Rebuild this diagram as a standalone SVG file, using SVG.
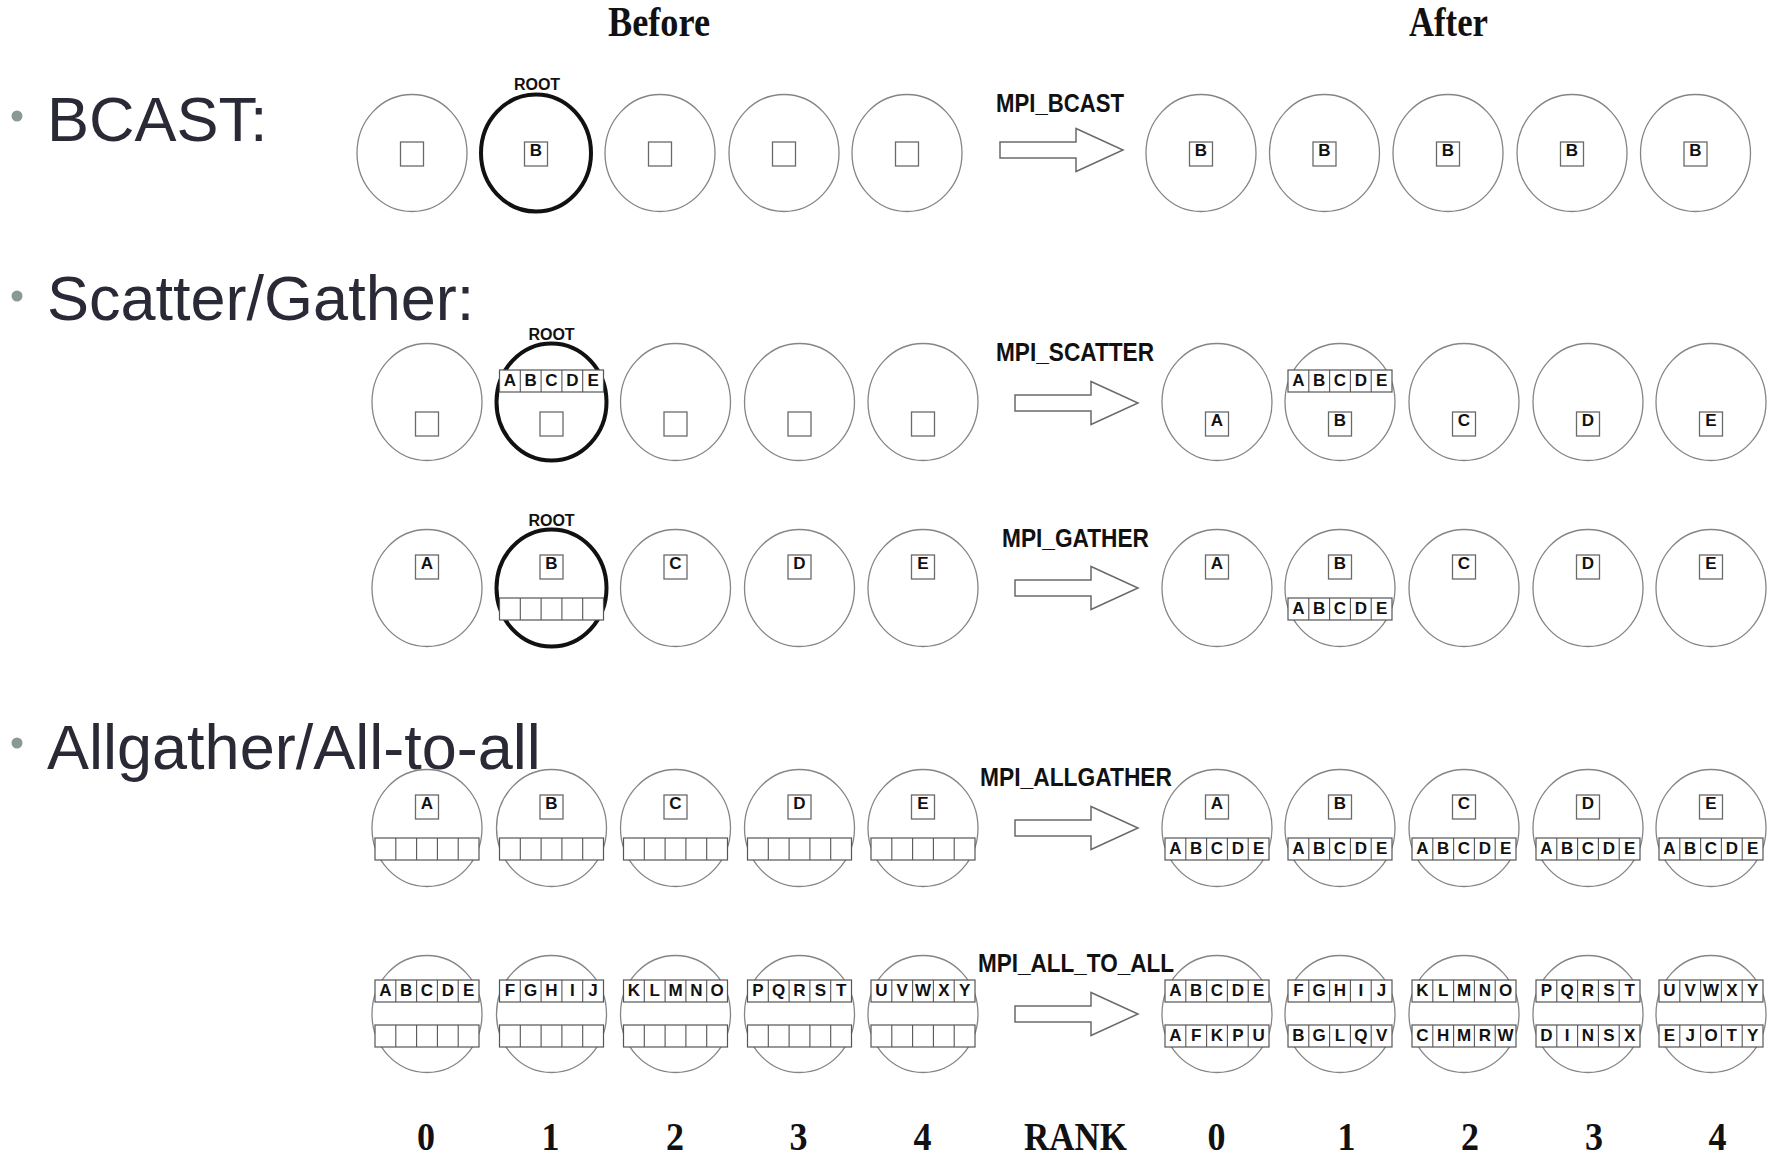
<svg xmlns="http://www.w3.org/2000/svg" width="1773" height="1159" viewBox="0 0 1773 1159">
  <style>
    .proc { fill: none; stroke: #858585; stroke-width: 1.3; }
    .root { fill: none; stroke: #111; stroke-width: 4; }
    .sq { fill: #fff; stroke: #6a6a6a; stroke-width: 1.3; }
    .cell { fill: #fff; stroke: #555; stroke-width: 1.2; }
    .div { fill: none; stroke: #555; stroke-width: 1.1; }
    .arrow { fill: #fff; stroke: #6a6a6a; stroke-width: 1.5; stroke-linejoin: miter; }
    .lt { font-family: "Liberation Sans", Arial, sans-serif; font-weight: bold; font-size: 17px; text-anchor: middle; fill: #111; }
    .rl { font-family: "Liberation Sans", Arial, sans-serif; font-weight: bold; font-size: 16px; text-anchor: middle; fill: #111; }
    .op { font-family: "Liberation Sans", Arial, sans-serif; font-weight: bold; font-size: 25px; fill: #111; }
    .hd { font-family: "Liberation Serif", "Times New Roman", serif; font-weight: bold; font-size: 42px; fill: #111; }
    .rk { font-family: "Liberation Serif", "Times New Roman", serif; font-weight: bold; font-size: 40px; fill: #111; text-anchor: middle; }
    .bl { font-family: "Liberation Sans", Arial, sans-serif; font-size: 63px; fill: #2a2a36; }
    .dot { fill: #8a9a92; }
  </style>
  <defs>
    <ellipse id="pe" cx="0" cy="0" rx="55" ry="58.5"/>
    <path id="blk" d="M0 -8 H76 V-21.5 L123 0 L76 21.5 V8 H0 Z"/>
    <g id="row">
      <rect class="cell" x="0" y="0" width="104" height="22"/>
      <path class="div" d="M20.8 0 v22 M41.6 0 v22 M62.4 0 v22 M83.2 0 v22"/>
    </g>
    <rect id="box" class="sq" x="-11.5" y="0" width="23" height="24"/>
  </defs>

  <rect x="0" y="0" width="1773" height="1159" fill="#fff"/>

  <!-- slide bullets -->
  <g id="bullets">
    <circle class="dot" cx="17" cy="116" r="5.5"/>
    <text class="bl" x="47" y="141">BCAST:</text>
    <circle class="dot" cx="17" cy="296" r="5.5"/>
    <text class="bl" x="47" y="320">Scatter/Gather:</text>
    <circle class="dot" cx="17" cy="743" r="5.5"/>
    <text class="bl" x="47" y="769">Allgather/All-to-all</text>
  </g>

  <!-- column headings -->
  <g id="headings">
    <text class="hd" x="608" y="36" textLength="102" lengthAdjust="spacingAndGlyphs">Before</text>
    <text class="hd" x="1409" y="36" textLength="79" lengthAdjust="spacingAndGlyphs">After</text>
  </g>

  <!-- operation arrows and their labels -->
  <g id="connectors">
    <use href="#blk" class="arrow" transform="translate(1000,150)"/>
    <text class="op" x="996" y="112" textLength="128" lengthAdjust="spacingAndGlyphs">MPI_BCAST</text>
    <use href="#blk" class="arrow" transform="translate(1015,403)"/>
    <text class="op" x="996" y="361" textLength="158" lengthAdjust="spacingAndGlyphs">MPI_SCATTER</text>
    <use href="#blk" class="arrow" transform="translate(1015,588)"/>
    <text class="op" x="1002" y="547" textLength="147" lengthAdjust="spacingAndGlyphs">MPI_GATHER</text>
    <use href="#blk" class="arrow" transform="translate(1015,828)"/>
    <text class="op" x="980" y="786" textLength="192" lengthAdjust="spacingAndGlyphs">MPI_ALLGATHER</text>
    <use href="#blk" class="arrow" transform="translate(1015,1014)"/>
    <text class="op" x="978" y="972" textLength="196" lengthAdjust="spacingAndGlyphs">MPI_ALL_TO_ALL</text>
  </g>

  <!-- ===== BCAST ===== -->
  <g id="bcast-before-0"><use href="#pe" class="proc" x="412" y="153"/><use href="#box" x="412" y="142"/></g>
  <g id="bcast-before-1">
    <text class="rl" x="537" y="90">ROOT</text>
    <use href="#pe" class="root" x="536" y="153"/><use href="#box" x="536" y="142"/><text class="lt" x="536" y="156">B</text>
  </g>
  <g id="bcast-before-2"><use href="#pe" class="proc" x="660" y="153"/><use href="#box" x="660" y="142"/></g>
  <g id="bcast-before-3"><use href="#pe" class="proc" x="784" y="153"/><use href="#box" x="784" y="142"/></g>
  <g id="bcast-before-4"><use href="#pe" class="proc" x="907" y="153"/><use href="#box" x="907" y="142"/></g>

  <g id="bcast-after-0"><use href="#pe" class="proc" x="1201" y="153"/><use href="#box" x="1201" y="142"/><text class="lt" x="1201" y="156">B</text></g>
  <g id="bcast-after-1"><use href="#pe" class="proc" x="1324.5" y="153"/><use href="#box" x="1324.5" y="142"/><text class="lt" x="1324.5" y="156">B</text></g>
  <g id="bcast-after-2"><use href="#pe" class="proc" x="1448" y="153"/><use href="#box" x="1448" y="142"/><text class="lt" x="1448" y="156">B</text></g>
  <g id="bcast-after-3"><use href="#pe" class="proc" x="1572" y="153"/><use href="#box" x="1572" y="142"/><text class="lt" x="1572" y="156">B</text></g>
  <g id="bcast-after-4"><use href="#pe" class="proc" x="1695.5" y="153"/><use href="#box" x="1695.5" y="142"/><text class="lt" x="1695.5" y="156">B</text></g>

  <!-- ===== SCATTER ===== -->
  <g id="scatter-before-0"><use href="#pe" class="proc" x="427" y="402"/><use href="#box" x="427" y="412"/></g>
  <g id="scatter-before-1">
    <text class="rl" x="551.5" y="340">ROOT</text>
    <use href="#pe" class="root" x="551.5" y="402"/>
    <use href="#row" x="499.5" y="370"/>
    <text class="lt" x="509.9" y="386">A</text><text class="lt" x="530.7" y="386">B</text><text class="lt" x="551.5" y="386">C</text><text class="lt" x="572.3" y="386">D</text><text class="lt" x="593.1" y="386">E</text>
    <use href="#box" x="551.5" y="412"/>
  </g>
  <g id="scatter-before-2"><use href="#pe" class="proc" x="675.5" y="402"/><use href="#box" x="675.5" y="412"/></g>
  <g id="scatter-before-3"><use href="#pe" class="proc" x="799.5" y="402"/><use href="#box" x="799.5" y="412"/></g>
  <g id="scatter-before-4"><use href="#pe" class="proc" x="923" y="402"/><use href="#box" x="923" y="412"/></g>

  <g id="scatter-after-0"><use href="#pe" class="proc" x="1217" y="402"/><use href="#box" x="1217" y="412"/><text class="lt" x="1217" y="426">A</text></g>
  <g id="scatter-after-1">
    <use href="#pe" class="proc" x="1340" y="402"/>
    <use href="#row" x="1288" y="370"/>
    <text class="lt" x="1298.4" y="386">A</text><text class="lt" x="1319.2" y="386">B</text><text class="lt" x="1340" y="386">C</text><text class="lt" x="1360.8" y="386">D</text><text class="lt" x="1381.6" y="386">E</text>
    <use href="#box" x="1340" y="412"/><text class="lt" x="1340" y="426">B</text>
  </g>
  <g id="scatter-after-2"><use href="#pe" class="proc" x="1464" y="402"/><use href="#box" x="1464" y="412"/><text class="lt" x="1464" y="426">C</text></g>
  <g id="scatter-after-3"><use href="#pe" class="proc" x="1588" y="402"/><use href="#box" x="1588" y="412"/><text class="lt" x="1588" y="426">D</text></g>
  <g id="scatter-after-4"><use href="#pe" class="proc" x="1711" y="402"/><use href="#box" x="1711" y="412"/><text class="lt" x="1711" y="426">E</text></g>

  <!-- ===== GATHER ===== -->
  <g id="gather-before-0"><use href="#pe" class="proc" x="427" y="588"/><use href="#box" x="427" y="555"/><text class="lt" x="427" y="569">A</text></g>
  <g id="gather-before-1">
    <text class="rl" x="551.5" y="526">ROOT</text>
    <use href="#pe" class="root" x="551.5" y="588"/>
    <use href="#box" x="551.5" y="555"/><text class="lt" x="551.5" y="569">B</text>
    <use href="#row" x="499.5" y="598"/>
  </g>
  <g id="gather-before-2"><use href="#pe" class="proc" x="675.5" y="588"/><use href="#box" x="675.5" y="555"/><text class="lt" x="675.5" y="569">C</text></g>
  <g id="gather-before-3"><use href="#pe" class="proc" x="799.5" y="588"/><use href="#box" x="799.5" y="555"/><text class="lt" x="799.5" y="569">D</text></g>
  <g id="gather-before-4"><use href="#pe" class="proc" x="923" y="588"/><use href="#box" x="923" y="555"/><text class="lt" x="923" y="569">E</text></g>

  <g id="gather-after-0"><use href="#pe" class="proc" x="1217" y="588"/><use href="#box" x="1217" y="555"/><text class="lt" x="1217" y="569">A</text></g>
  <g id="gather-after-1">
    <use href="#pe" class="proc" x="1340" y="588"/>
    <use href="#box" x="1340" y="555"/><text class="lt" x="1340" y="569">B</text>
    <use href="#row" x="1288" y="598"/>
    <text class="lt" x="1298.4" y="614">A</text><text class="lt" x="1319.2" y="614">B</text><text class="lt" x="1340" y="614">C</text><text class="lt" x="1360.8" y="614">D</text><text class="lt" x="1381.6" y="614">E</text>
  </g>
  <g id="gather-after-2"><use href="#pe" class="proc" x="1464" y="588"/><use href="#box" x="1464" y="555"/><text class="lt" x="1464" y="569">C</text></g>
  <g id="gather-after-3"><use href="#pe" class="proc" x="1588" y="588"/><use href="#box" x="1588" y="555"/><text class="lt" x="1588" y="569">D</text></g>
  <g id="gather-after-4"><use href="#pe" class="proc" x="1711" y="588"/><use href="#box" x="1711" y="555"/><text class="lt" x="1711" y="569">E</text></g>

  <!-- ===== ALLGATHER ===== -->
  <g id="allgather-before-0"><use href="#pe" class="proc" x="427" y="828"/><use href="#box" x="427" y="795"/><text class="lt" x="427" y="809">A</text><use href="#row" x="375" y="838"/></g>
  <g id="allgather-before-1"><use href="#pe" class="proc" x="551.5" y="828"/><use href="#box" x="551.5" y="795"/><text class="lt" x="551.5" y="809">B</text><use href="#row" x="499.5" y="838"/></g>
  <g id="allgather-before-2"><use href="#pe" class="proc" x="675.5" y="828"/><use href="#box" x="675.5" y="795"/><text class="lt" x="675.5" y="809">C</text><use href="#row" x="623.5" y="838"/></g>
  <g id="allgather-before-3"><use href="#pe" class="proc" x="799.5" y="828"/><use href="#box" x="799.5" y="795"/><text class="lt" x="799.5" y="809">D</text><use href="#row" x="747.5" y="838"/></g>
  <g id="allgather-before-4"><use href="#pe" class="proc" x="923" y="828"/><use href="#box" x="923" y="795"/><text class="lt" x="923" y="809">E</text><use href="#row" x="871" y="838"/></g>

  <g id="allgather-after-0"><use href="#pe" class="proc" x="1217" y="828"/><use href="#box" x="1217" y="795"/><text class="lt" x="1217" y="809">A</text><use href="#row" x="1165" y="838"/>
    <text class="lt" x="1175.4" y="854">A</text><text class="lt" x="1196.2" y="854">B</text><text class="lt" x="1217" y="854">C</text><text class="lt" x="1237.8" y="854">D</text><text class="lt" x="1258.6" y="854">E</text></g>
  <g id="allgather-after-1"><use href="#pe" class="proc" x="1340" y="828"/><use href="#box" x="1340" y="795"/><text class="lt" x="1340" y="809">B</text><use href="#row" x="1288" y="838"/>
    <text class="lt" x="1298.4" y="854">A</text><text class="lt" x="1319.2" y="854">B</text><text class="lt" x="1340" y="854">C</text><text class="lt" x="1360.8" y="854">D</text><text class="lt" x="1381.6" y="854">E</text></g>
  <g id="allgather-after-2"><use href="#pe" class="proc" x="1464" y="828"/><use href="#box" x="1464" y="795"/><text class="lt" x="1464" y="809">C</text><use href="#row" x="1412" y="838"/>
    <text class="lt" x="1422.4" y="854">A</text><text class="lt" x="1443.2" y="854">B</text><text class="lt" x="1464" y="854">C</text><text class="lt" x="1484.8" y="854">D</text><text class="lt" x="1505.6" y="854">E</text></g>
  <g id="allgather-after-3"><use href="#pe" class="proc" x="1588" y="828"/><use href="#box" x="1588" y="795"/><text class="lt" x="1588" y="809">D</text><use href="#row" x="1536" y="838"/>
    <text class="lt" x="1546.4" y="854">A</text><text class="lt" x="1567.2" y="854">B</text><text class="lt" x="1588" y="854">C</text><text class="lt" x="1608.8" y="854">D</text><text class="lt" x="1629.6" y="854">E</text></g>
  <g id="allgather-after-4"><use href="#pe" class="proc" x="1711" y="828"/><use href="#box" x="1711" y="795"/><text class="lt" x="1711" y="809">E</text><use href="#row" x="1659" y="838"/>
    <text class="lt" x="1669.4" y="854">A</text><text class="lt" x="1690.2" y="854">B</text><text class="lt" x="1711" y="854">C</text><text class="lt" x="1731.8" y="854">D</text><text class="lt" x="1752.6" y="854">E</text></g>

  <!-- ===== ALL-TO-ALL ===== -->
  <g id="alltoall-before-0"><use href="#pe" class="proc" x="427" y="1014"/><use href="#row" x="375" y="980"/><use href="#row" x="375" y="1025"/>
    <text class="lt" x="385.4" y="996">A</text><text class="lt" x="406.2" y="996">B</text><text class="lt" x="427" y="996">C</text><text class="lt" x="447.8" y="996">D</text><text class="lt" x="468.6" y="996">E</text></g>
  <g id="alltoall-before-1"><use href="#pe" class="proc" x="551.5" y="1014"/><use href="#row" x="499.5" y="980"/><use href="#row" x="499.5" y="1025"/>
    <text class="lt" x="509.9" y="996">F</text><text class="lt" x="530.7" y="996">G</text><text class="lt" x="551.5" y="996">H</text><text class="lt" x="572.3" y="996">I</text><text class="lt" x="593.1" y="996">J</text></g>
  <g id="alltoall-before-2"><use href="#pe" class="proc" x="675.5" y="1014"/><use href="#row" x="623.5" y="980"/><use href="#row" x="623.5" y="1025"/>
    <text class="lt" x="633.9" y="996">K</text><text class="lt" x="654.7" y="996">L</text><text class="lt" x="675.5" y="996">M</text><text class="lt" x="696.3" y="996">N</text><text class="lt" x="717.1" y="996">O</text></g>
  <g id="alltoall-before-3"><use href="#pe" class="proc" x="799.5" y="1014"/><use href="#row" x="747.5" y="980"/><use href="#row" x="747.5" y="1025"/>
    <text class="lt" x="757.9" y="996">P</text><text class="lt" x="778.7" y="996">Q</text><text class="lt" x="799.5" y="996">R</text><text class="lt" x="820.3" y="996">S</text><text class="lt" x="841.1" y="996">T</text></g>
  <g id="alltoall-before-4"><use href="#pe" class="proc" x="923" y="1014"/><use href="#row" x="871" y="980"/><use href="#row" x="871" y="1025"/>
    <text class="lt" x="881.4" y="996">U</text><text class="lt" x="902.2" y="996">V</text><text class="lt" x="923" y="996">W</text><text class="lt" x="943.8" y="996">X</text><text class="lt" x="964.6" y="996">Y</text></g>

  <g id="alltoall-after-0"><use href="#pe" class="proc" x="1217" y="1014"/><use href="#row" x="1165" y="980"/><use href="#row" x="1165" y="1025"/>
    <text class="lt" x="1175.4" y="996">A</text><text class="lt" x="1196.2" y="996">B</text><text class="lt" x="1217" y="996">C</text><text class="lt" x="1237.8" y="996">D</text><text class="lt" x="1258.6" y="996">E</text>
    <text class="lt" x="1175.4" y="1041">A</text><text class="lt" x="1196.2" y="1041">F</text><text class="lt" x="1217" y="1041">K</text><text class="lt" x="1237.8" y="1041">P</text><text class="lt" x="1258.6" y="1041">U</text></g>
  <g id="alltoall-after-1"><use href="#pe" class="proc" x="1340" y="1014"/><use href="#row" x="1288" y="980"/><use href="#row" x="1288" y="1025"/>
    <text class="lt" x="1298.4" y="996">F</text><text class="lt" x="1319.2" y="996">G</text><text class="lt" x="1340" y="996">H</text><text class="lt" x="1360.8" y="996">I</text><text class="lt" x="1381.6" y="996">J</text>
    <text class="lt" x="1298.4" y="1041">B</text><text class="lt" x="1319.2" y="1041">G</text><text class="lt" x="1340" y="1041">L</text><text class="lt" x="1360.8" y="1041">Q</text><text class="lt" x="1381.6" y="1041">V</text></g>
  <g id="alltoall-after-2"><use href="#pe" class="proc" x="1464" y="1014"/><use href="#row" x="1412" y="980"/><use href="#row" x="1412" y="1025"/>
    <text class="lt" x="1422.4" y="996">K</text><text class="lt" x="1443.2" y="996">L</text><text class="lt" x="1464" y="996">M</text><text class="lt" x="1484.8" y="996">N</text><text class="lt" x="1505.6" y="996">O</text>
    <text class="lt" x="1422.4" y="1041">C</text><text class="lt" x="1443.2" y="1041">H</text><text class="lt" x="1464" y="1041">M</text><text class="lt" x="1484.8" y="1041">R</text><text class="lt" x="1505.6" y="1041">W</text></g>
  <g id="alltoall-after-3"><use href="#pe" class="proc" x="1588" y="1014"/><use href="#row" x="1536" y="980"/><use href="#row" x="1536" y="1025"/>
    <text class="lt" x="1546.4" y="996">P</text><text class="lt" x="1567.2" y="996">Q</text><text class="lt" x="1588" y="996">R</text><text class="lt" x="1608.8" y="996">S</text><text class="lt" x="1629.6" y="996">T</text>
    <text class="lt" x="1546.4" y="1041">D</text><text class="lt" x="1567.2" y="1041">I</text><text class="lt" x="1588" y="1041">N</text><text class="lt" x="1608.8" y="1041">S</text><text class="lt" x="1629.6" y="1041">X</text></g>
  <g id="alltoall-after-4"><use href="#pe" class="proc" x="1711" y="1014"/><use href="#row" x="1659" y="980"/><use href="#row" x="1659" y="1025"/>
    <text class="lt" x="1669.4" y="996">U</text><text class="lt" x="1690.2" y="996">V</text><text class="lt" x="1711" y="996">W</text><text class="lt" x="1731.8" y="996">X</text><text class="lt" x="1752.6" y="996">Y</text>
    <text class="lt" x="1669.4" y="1041">E</text><text class="lt" x="1690.2" y="1041">J</text><text class="lt" x="1711" y="1041">O</text><text class="lt" x="1731.8" y="1041">T</text><text class="lt" x="1752.6" y="1041">Y</text></g>

  <!-- rank axis -->
  <g id="rank-axis">
    <text class="rk" x="426" y="1150" textLength="18" lengthAdjust="spacingAndGlyphs">0</text>
    <text class="rk" x="550.5" y="1150" textLength="18" lengthAdjust="spacingAndGlyphs">1</text>
    <text class="rk" x="675" y="1150" textLength="18" lengthAdjust="spacingAndGlyphs">2</text>
    <text class="rk" x="798.5" y="1150" textLength="18" lengthAdjust="spacingAndGlyphs">3</text>
    <text class="rk" x="922.5" y="1150" textLength="18" lengthAdjust="spacingAndGlyphs">4</text>
    <text class="rk" x="1075.5" y="1150" textLength="103" lengthAdjust="spacingAndGlyphs">RANK</text>
    <text class="rk" x="1216.5" y="1150" textLength="18" lengthAdjust="spacingAndGlyphs">0</text>
    <text class="rk" x="1346.5" y="1150" textLength="18" lengthAdjust="spacingAndGlyphs">1</text>
    <text class="rk" x="1470" y="1150" textLength="18" lengthAdjust="spacingAndGlyphs">2</text>
    <text class="rk" x="1594" y="1150" textLength="18" lengthAdjust="spacingAndGlyphs">3</text>
    <text class="rk" x="1717.5" y="1150" textLength="18" lengthAdjust="spacingAndGlyphs">4</text>
  </g>
</svg>
